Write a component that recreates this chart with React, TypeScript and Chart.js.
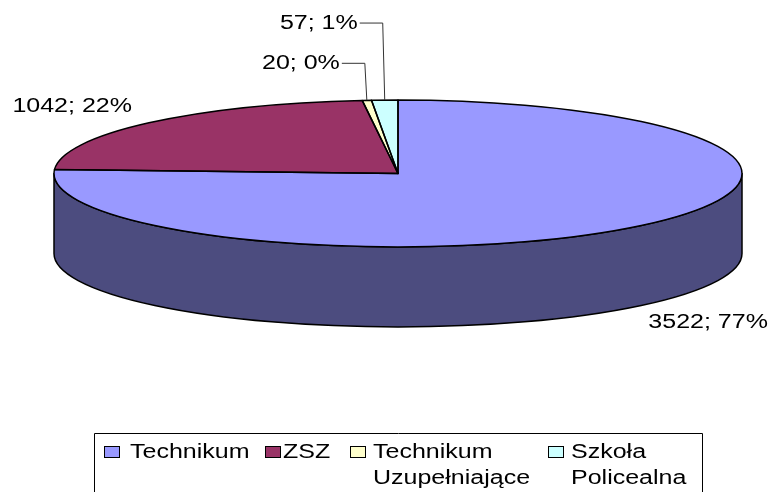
import React, { useEffect, useRef } from 'react';
import { Chart, registerables } from 'chart.js';

Chart.register(...registerables);

// ---- data ----
const categories = ['Technikum', 'ZSZ', 'Technikum Uzupełniające', 'Szkoła Policealna'];
const legendLines = [['Technikum'], ['ZSZ'], ['Technikum', 'Uzupełniające'], ['Szkoła', 'Policealna']];
const values = [3522, 1042, 20, 57];
const percentLabels = ['77%', '22%', '0%', '1%'];
const topColors = ['#9999FF', '#993366', '#FFFFCC', '#CCFFFF'];
const sideColors = ['#4C4C7F', '#4D1933', '#808066', '#668080'];

// ---- layout / style ----
const W = 773;
const H = 492;
const CX = 398;
const CY = 173.5;
const RX = 344;
const RY = 73.5;
const DEPTH = 80;
const FONT = '20px "Liberation Sans", Arial, sans-serif';
const STRETCH = 1.25;
// per-slice label placement relative to the slice's anchor point on the rim
const labelLayout = [
  { dx: 14, dy: 21, align: 'left', leader: null },
  { dx: -17, dy: -11, align: 'right', leader: null },
  { dx: 0, dy: 0, align: 'right', leader: { ex: -2, ey: -37, hx: -23 } },
  { dx: 0, dy: 0, align: 'right', leader: { ex: -2, ey: -77, hx: -23 } },
];
const legendBox = { left: 94.5, top: 433.5, right: 702.5, bottom: 500 };
const legendItems = [
  { sq: 104, tx: 130 },
  { sq: 265, tx: 283 },
  { sq: 350, tx: 373 },
  { sq: 548, tx: 571 },
];
const legendBaselines = [457.5, 483.5];

function stretchedText(ctx: CanvasRenderingContext2D, text: string, x: number, y: number, align: CanvasTextAlign) {
  ctx.save();
  ctx.translate(x, y);
  ctx.scale(STRETCH, 1);
  ctx.font = FONT;
  ctx.fillStyle = '#000';
  ctx.textAlign = align;
  ctx.textBaseline = 'alphabetic';
  ctx.fillText(text, 0, 0);
  ctx.restore();
}

function geom(chart: any) {
  const arcs = chart.getDatasetMeta(0).data;
  const a0 = arcs[0];
  const R = a0.outerRadius;
  const ox = a0.x;
  const oy = a0.y;
  const sx = RX / R;
  const sy = RY / R;
  return { arcs, R, ox, oy, sx, sy };
}

const pie3d = {
  id: 'pie3d',
  beforeDatasetsDraw(chart: any) {
    const ctx: CanvasRenderingContext2D = chart.ctx;
    const { arcs, R, ox, oy, sx, sy } = geom(chart);
    const setT = () => ctx.setTransform(sx, 0, 0, sy, CX - sx * ox, CY - sy * oy);
    const D = DEPTH / sy;
    ctx.save();
    arcs.forEach((arc: any, i: number) => {
      const { startAngle, endAngle } = arc.getProps(['startAngle', 'endAngle'], true);
      const lo = Math.max(startAngle, 0);
      const hi = Math.min(endAngle, Math.PI);
      if (hi <= lo) return;
      setT();
      ctx.beginPath();
      ctx.arc(ox, oy, R, lo, hi);
      ctx.lineTo(ox + R * Math.cos(hi), oy + R * Math.sin(hi) + D);
      ctx.arc(ox, oy + D, R, hi, lo, true);
      ctx.closePath();
      ctx.setTransform(1, 0, 0, 1, 0, 0);
      ctx.fillStyle = sideColors[i];
      ctx.fill();
      ctx.lineWidth = 1.5;
      ctx.strokeStyle = '#000';
      ctx.lineJoin = 'round';
      ctx.stroke();
    });
    ctx.restore();
    ctx.save();
    setT();
  },
  afterDatasetsDraw(chart: any) {
    const ctx: CanvasRenderingContext2D = chart.ctx;
    ctx.restore();
    const { arcs, R, ox, oy, sx, sy } = geom(chart);
    ctx.save();
    arcs.forEach((arc: any) => {
      const { startAngle, endAngle } = arc.getProps(['startAngle', 'endAngle'], true);
      ctx.setTransform(sx, 0, 0, sy, CX - sx * ox, CY - sy * oy);
      ctx.beginPath();
      ctx.moveTo(ox, oy);
      ctx.arc(ox, oy, R, startAngle, endAngle);
      ctx.closePath();
      ctx.setTransform(1, 0, 0, 1, 0, 0);
      ctx.lineWidth = 1.5;
      ctx.strokeStyle = '#000';
      ctx.lineJoin = 'round';
      ctx.stroke();
    });
    ctx.restore();
  },
  afterDraw(chart: any) {
    const ctx: CanvasRenderingContext2D = chart.ctx;
    const { arcs } = geom(chart);
    ctx.save();
    ctx.setTransform(1, 0, 0, 1, 0, 0);
    // data labels
    arcs.forEach((arc: any, i: number) => {
      const { startAngle, endAngle } = arc.getProps(['startAngle', 'endAngle'], true);
      const m = (startAngle + endAngle) / 2;
      const px = CX + RX * Math.cos(m);
      let py = CY + RY * Math.sin(m);
      if (Math.sin(m) > 0) py += DEPTH;
      const cfg = labelLayout[i];
      const text = `${values[i]}; ${percentLabels[i]}`;
      if (cfg.leader) {
        const ex = px + cfg.leader.ex;
        const ey = py + cfg.leader.ey;
        const hx = ex + cfg.leader.hx;
        ctx.beginPath();
        ctx.moveTo(px, py);
        ctx.lineTo(ex, ey);
        ctx.lineTo(hx, ey);
        ctx.lineWidth = 1;
        ctx.strokeStyle = '#333';
        ctx.stroke();
        stretchedText(ctx, text, hx - 2, ey + 6, 'right');
      } else {
        stretchedText(ctx, text, px + cfg.dx, py + cfg.dy, cfg.align as CanvasTextAlign);
      }
    });
    // legend
    ctx.lineWidth = 1;
    ctx.strokeStyle = '#000';
    ctx.beginPath();
    ctx.moveTo(legendBox.left, legendBox.bottom);
    ctx.lineTo(legendBox.left, legendBox.top);
    ctx.lineTo(legendBox.right, legendBox.top);
    ctx.lineTo(legendBox.right, legendBox.bottom);
    ctx.stroke();
    legendItems.forEach((it, i) => {
      ctx.fillStyle = topColors[i];
      ctx.fillRect(it.sq + 0.5, 446.5, 15, 11);
      ctx.strokeStyle = '#000';
      ctx.lineWidth = 1;
      ctx.strokeRect(it.sq + 0.5, 446.5, 15, 11);
      legendLines[i].forEach((line, k) => {
        stretchedText(ctx, line, it.tx, legendBaselines[k], 'left');
      });
    });
    ctx.restore();
  },
};

export default function App() {
  const ref = useRef<HTMLCanvasElement>(null);
  useEffect(() => {
    if (!ref.current) return;
    const chart = new Chart(ref.current, {
      type: 'pie',
      data: {
        labels: categories,
        datasets: [
          {
            data: values,
            backgroundColor: topColors,
            borderWidth: 0,
            hoverOffset: 0,
            clip: false as any,
          },
        ],
      },
      options: {
        responsive: false,
        maintainAspectRatio: false,
        animation: false,
        events: [],
        layout: { padding: 0 },
        plugins: {
          legend: { display: false },
          tooltip: { enabled: false },
        },
      },
      plugins: [pie3d],
    });
    return () => chart.destroy();
  }, []);
  return (
    <div style={{ position: 'absolute', left: 0, top: 0, width: W, height: H, background: '#fff' }}>
      <canvas ref={ref} width={W} height={H} style={{ display: 'block' }} />
    </div>
  );
}
